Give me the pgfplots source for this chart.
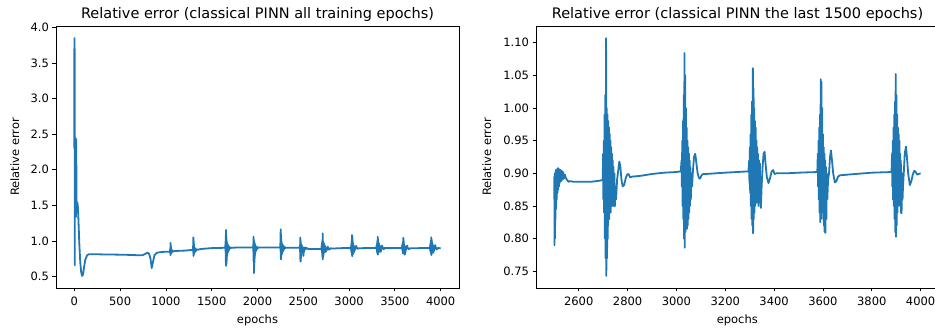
\documentclass[border=0pt]{standalone}
\usepackage{fontspec}
\setmainfont{DejaVu Sans}
\usepackage{pgfplots}
\usepackage{pgfplotstable}
\pgfplotsset{compat=1.18}
\definecolor{mplblue}{HTML}{1F77B4}

\pgfplotstableread{
e v
0 2.30
1 3.85
3 3.84
5 0.66
7 2.30
9 2.35
11 1.40
13 2.45
15 2.42
17 1.34
19 2.40
21 2.43
24 1.50
30 1.55
38 1.50
45 1.30
55 0.95
65 0.70
75 0.56
85 0.51
95 0.53
105 0.62
120 0.74
140 0.80
160 0.815
200 0.815
300 0.812
400 0.81
500 0.808
600 0.805
700 0.80
740 0.80
770 0.815
795 0.835
815 0.825
832 0.75
845 0.62
858 0.70
875 0.80
900 0.835
950 0.845
1000 0.85
1045 0.85
1047 0.90
1048 0.82
1050 0.975
1051 0.80
1053 0.95
1054 0.82
1056 0.92
1057 0.83
1059 0.90
1060 0.83
1063 0.88
1065 0.84
1068 0.87
1071 0.845
1075 0.86
1080 0.855
1100 0.86
1200 0.865
1295 0.875
1297 0.93
1298 0.84
1300 1.05
1301 0.79
1303 1.00
1304 0.80
1306 0.96
1307 0.82
1309 0.93
1310 0.83
1312 0.91
1314 0.84
1317 0.90
1320 0.85
1324 0.89
1328 0.86
1333 0.885
1340 0.875
1350 0.88
1400 0.89
1500 0.90
1648 0.905
1650 0.96
1651 0.85
1653 1.08
1654 0.70
1656 1.155
1657 0.65
1659 1.10
1660 0.68
1662 1.05
1663 0.72
1665 1.00
1666 0.78
1668 0.98
1669 0.80
1671 0.96
1672 0.82
1675 0.95
1677 0.84
1680 0.94
1682 0.86
1685 0.93
1688 0.87
1692 0.92
1696 0.89
1700 0.91
1705 0.90
1715 0.905
1800 0.91
1952 0.91
1954 0.96
1955 0.85
1957 1.06
1958 0.70
1960 1.03
1961 0.55
1963 1.00
1964 0.62
1966 0.98
1967 0.70
1969 0.97
1970 0.76
1972 0.95
1973 0.80
1976 0.94
1978 0.84
1981 0.93
1984 0.86
1988 0.92
1992 0.88
1997 0.915
2003 0.90
2012 0.91
2100 0.91
2248 0.91
2250 0.97
2251 0.86
2253 1.165
2254 0.76
2256 1.10
2257 0.74
2259 1.05
2260 0.77
2262 1.00
2263 0.80
2265 0.97
2266 0.82
2268 0.96
2270 0.83
2273 0.95
2275 0.85
2278 0.94
2281 0.86
2285 0.93
2289 0.88
2294 0.92
2300 0.90
2310 0.905
2400 0.905
2462 0.905
2464 0.95
2465 0.85
2467 1.05
2468 0.74
2470 1.02
2471 0.71
2473 0.99
2474 0.76
2476 0.96
2477 0.80
2479 0.95
2480 0.82
2482 0.94
2484 0.83
2486 0.93
2488 0.84
2490 0.92
2492 0.85
2494 0.91
2496 0.86
2498 0.90
2499 0.87
}\early

\pgfplotstableread{
e v
2500 0.895
2501 0.79
2502 0.90
2503 0.80
2504 0.90
2505 0.83
2506 0.905
2507 0.845
2509 0.905
2510 0.86
2512 0.907
2513 0.87
2515 0.908
2516 0.875
2518 0.907
2519 0.88
2521 0.906
2522 0.885
2525 0.905
2527 0.888
2530 0.904
2533 0.89
2536 0.902
2539 0.892
2543 0.898
2547 0.893
2552 0.890
2559 0.887
2565 0.888
2580 0.887
2600 0.887
2650 0.887
2690 0.889
2698 0.890
2700 0.93
2701 0.86
2703 0.95
2704 0.84
2706 0.99
2707 0.80
2709 1.02
2710 0.77
2712 1.107
2713 0.743
2715 1.00
2716 0.77
2718 0.99
2719 0.80
2721 0.98
2722 0.83
2724 0.97
2725 0.83
2727 0.96
2728 0.85
2730 0.95
2731 0.84
2733 0.94
2734 0.86
2736 0.93
2737 0.85
2739 0.92
2740 0.86
2742 0.91
2744 0.85
2746 0.90
2748 0.85
2750 0.88
2753 0.86
2757 0.89
2762 0.905
2766 0.918
2770 0.912
2775 0.89
2780 0.88
2786 0.882
2792 0.892
2798 0.898
2804 0.899
2810 0.894
2820 0.895
2850 0.896
2900 0.899
2950 0.901
3000 0.902
3018 0.903
3021 0.92
3022 0.88
3024 0.95
3025 0.85
3027 0.98
3028 0.83
3030 1.02
3031 0.80
3033 1.084
3034 0.786
3036 1.05
3037 0.81
3039 1.00
3040 0.82
3042 0.97
3043 0.815
3045 0.95
3046 0.82
3048 0.94
3049 0.83
3051 0.93
3052 0.84
3054 0.92
3055 0.85
3057 0.91
3059 0.86
3061 0.90
3064 0.88
3068 0.905
3072 0.925
3077 0.93
3082 0.915
3087 0.90
3092 0.893
3097 0.892
3103 0.897
3110 0.899
3120 0.899
3200 0.901
3295 0.903
3298 0.92
3299 0.885
3301 0.94
3302 0.87
3304 0.96
3305 0.85
3307 0.99
3308 0.83
3310 1.01
3311 0.82
3313 1.061
3314 0.808
3316 1.03
3317 0.83
3319 1.00
3320 0.84
3322 0.98
3323 0.85
3325 0.97
3326 0.86
3328 0.95
3329 0.855
3331 0.94
3332 0.86
3334 0.93
3336 0.85
3338 0.92
3340 0.865
3342 0.915
3344 0.86
3346 0.847
3349 0.88
3353 0.91
3357 0.93
3361 0.933
3365 0.915
3370 0.895
3377 0.885
3383 0.892
3390 0.903
3396 0.905
3402 0.899
3410 0.900
3450 0.900
3500 0.901
3577 0.902
3579 0.93
3580 0.88
3582 0.95
3583 0.86
3585 0.97
3586 0.84
3588 0.99
3589 0.825
3591 1.044
3592 0.83
3594 1.04
3595 0.84
3597 1.00
3598 0.85
3600 0.96
3601 0.83
3603 0.94
3604 0.82
3606 0.93
3607 0.81
3609 0.92
3610 0.809
3612 0.91
3614 0.83
3616 0.90
3618 0.86
3621 0.89
3625 0.90
3629 0.925
3633 0.935
3637 0.92
3642 0.90
3649 0.886
3655 0.888
3662 0.895
3670 0.897
3700 0.898
3800 0.901
3881 0.902
3883 0.93
3884 0.88
3886 0.95
3887 0.86
3889 0.97
3890 0.85
3892 0.99
3893 0.83
3895 1.01
3896 0.81
3898 1.052
3899 0.803
3901 1.02
3902 0.82
3904 0.99
3905 0.84
3907 0.97
3908 0.85
3910 0.96
3911 0.86
3913 0.95
3914 0.87
3916 0.93
3917 0.85
3919 0.92
3920 0.84
3922 0.839
3924 0.90
3926 0.86
3928 0.88
3931 0.90
3935 0.93
3940 0.941
3944 0.925
3949 0.90
3956 0.882
3962 0.888
3968 0.898
3974 0.904
3980 0.902
3986 0.898
3992 0.899
4000 0.900
}\late

\pgfplotsset{
  mplstyle/.style={
    scale only axis,
    height=262pt,
    axis line style={line width=0.8pt},
    tick align=outside,
    tick pos=left,
    major tick length=3.5pt,
    every tick/.style={line width=0.8pt, black},
    tick label style={font=\fontsize{11.5}{13}\selectfont},
    xticklabel style={yshift=-2pt},
    /pgf/number format/assume math mode=true,
    /pgf/number format/1000 sep={},
    label style={font=\fontsize{11.5}{13}\selectfont},
    every axis title/.style={font=\fontsize{14.5}{16}\selectfont, at={(0.5,1)}, anchor=south, inner sep=0pt, yshift=4pt},
    xlabel style={at={(axis description cs:0.5,-0.122)}, anchor=center},
    clip=true,
  },
}

\begin{document}
\begin{tikzpicture}
\begin{axis}[mplstyle, width=403pt,
  at={(56pt,41pt)}, anchor=south west,
  xmin=-200, xmax=4200, ymin=0.34, ymax=4.02,
  xtick={0,500,1000,1500,2000,2500,3000,3500,4000},
  ytick={0.5,1.0,1.5,2.0,2.5,3.0,3.5,4.0},
  yticklabel style={/pgf/number format/.cd, fixed, fixed zerofill, precision=1},
  title={Relative error (classical PINN all training epochs)},
  xlabel={epochs}, ylabel={Relative error},
  ylabel style={at={(axis description cs:-0.102,0.5)}, anchor=center, rotate=0},
]
\addplot[mplblue, line width=1.8pt, line join=round] table[x=e,y=v] {\early};
\addplot[mplblue, line width=1.8pt, line join=round] table[x=e,y=v] {\late};
\end{axis}
\begin{axis}[mplstyle, width=410pt,
  at={(536pt,41pt)}, anchor=south west,
  xmin=2425, xmax=4104, ymin=0.7245, ymax=1.1255,
  xtick={2600,2800,3000,3200,3400,3600,3800,4000},
  ytick={0.75,0.80,0.85,0.90,0.95,1.00,1.05,1.10},
  yticklabel style={/pgf/number format/.cd, fixed, fixed zerofill, precision=2},
  title={Relative error (classical PINN the last 1500 epochs)},
  title style={xshift=-3.5pt},
  xlabel={epochs}, ylabel={Relative error},
  xlabel style={at={(axis description cs:0.491,-0.122)}},
  ylabel style={at={(axis description cs:-0.120,0.5)}, anchor=center, rotate=0},
]
\addplot[mplblue, line width=1.8pt, line join=round] table[x=e,y=v] {\late};
\end{axis}
\pgfresetboundingbox
\path (0,0) rectangle (935pt,329pt);
\end{tikzpicture}
\end{document}
